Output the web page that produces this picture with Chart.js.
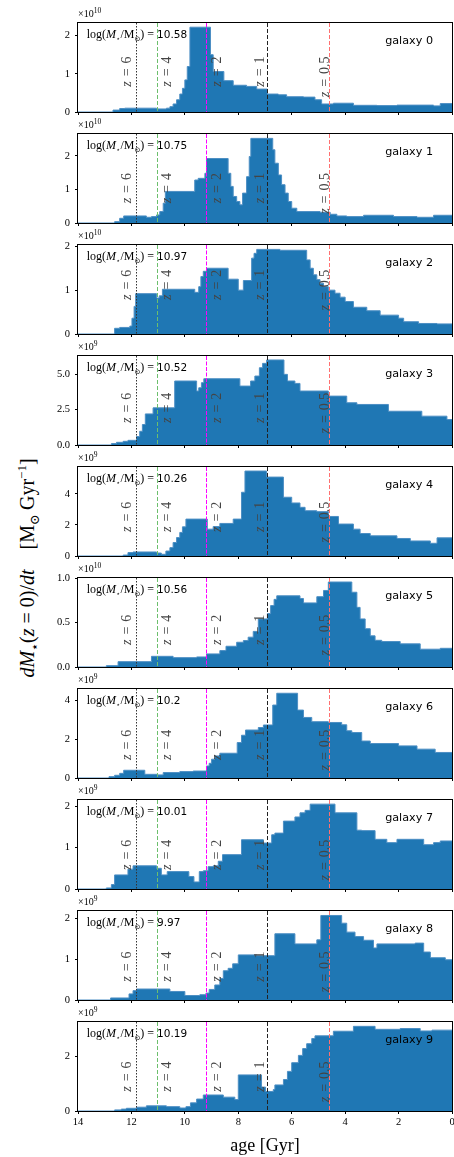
<!DOCTYPE html>
<html>
<head>
<meta charset="utf-8">
<script src="https://cdn.jsdelivr.net/npm/chart.js@4.4.1/dist/chart.umd.min.js"></script>
<style>
  body { margin: 0; background: #fff; width: 454px; height: 1157px; position: relative; overflow: hidden; }
  canvas { position: absolute; left: 0; }
  #ylab {
    position: absolute; left: 27px; top: 568px;
    transform: translate(-50%, -50%) rotate(-90deg);
    white-space: nowrap; font-family: "Liberation Serif", "DejaVu Serif", serif;
    font-size: 20px; line-height: 1; color: #000;
  }
  #ylab sub, #ylab sup { font-size: 0.65em; line-height: 0; }
</style>
</head>
<body>
<div id="ylab"><i>dM</i><sub>⋆</sub>(<i>z</i> = 0)/<i>dt</i>&ensp;&ensp;[M<sub>⊙</sub>&thinsp;Gyr<sup>−1</sup>]</div>
<script>
"use strict";
const xTicks = [14, 12, 10, 8, 6, 4, 2, 0];
const galaxyNames = ["galaxy 0", "galaxy 1", "galaxy 2", "galaxy 3", "galaxy 4",
  "galaxy 5", "galaxy 6", "galaxy 7", "galaxy 8", "galaxy 9"];
const logMass = ["10.58", "10.75", "10.97", "10.52", "10.26", "10.56", "10.2", "10.01", "9.97", "10.19"];
const yExponent = [10, 10, 10, 9, 9, 10, 9, 9, 9, 9];
const yTickLabels = [["0", "1", "2"], ["0", "1", "2"], ["0", "1", "2"], ["0.0", "2.5", "5.0"],
  ["0", "2", "4"], ["0.0", "0.5", "1.0"], ["0", "2", "4"], ["0", "1", "2"], ["0", "1", "2"], ["0", "2"]];
const yTop = [2.33, 2.65, 2.03, 6.3, 5.74, 1.0, 4.6, 2.15, 2.19, 3.28];
const zLabels = ["6", "4", "2", "1", "0.5"];
const zAges = [11.83, 11.03, 9.19, 6.92, 4.6];

// bin start age [Gyr] and dM/dt in units of 10^yExponent Msun/Gyr
const age0 = [14, 12.69, 12.44, 12.25, 11.06, 10.69, 10.56, 10.44, 10.31, 10.19, 10.09, 10.0, 9.91, 9.81, 9.04, 8.94, 8.54, 8.19, 7.69, 7.31, 6.91, 6.5, 6.19, 5.56, 5.13, 4.88, 4.44, 3.69, 2.81, 2.06, 0.69, 0.44];
const sfr0 = [0, 0.05, 0.09, 0.10, 0.08, 0.10, 0.14, 0.21, 0.32, 0.47, 0.62, 0.84, 1.19, 2.22, 1.5, 1.06, 0.82, 0.70, 0.67, 0.60, 0.47, 0.45, 0.40, 0.39, 0.32, 0.21, 0.23, 0.175, 0.167, 0.18, 0.16, 0.22];
const age1 = [14, 12.63, 12.44, 12.29, 11.44, 11.25, 11.06, 10.94, 10.81, 10.73, 9.63, 9.5, 9.25, 9.19, 8.38, 8.28, 8.19, 8.06, 7.94, 7.84, 7.69, 7.59, 7.53, 6.71, 6.63, 6.5, 6.38, 6.25, 6.13, 6.0, 5.81, 4.94, 4.56, 4.31, 3.94, 3.31, 2.19, 1.31, 0.69];
const sfr1 = [0, 0.04, 0.14, 0.21, 0.17, 0.19, 0.24, 0.34, 0.59, 0.94, 1.28, 1.33, 1.48, 1.92, 1.48, 1.09, 0.79, 0.64, 0.54, 0.89, 1.38, 1.98, 2.52, 2.18, 1.78, 1.43, 1.14, 0.89, 0.64, 0.44, 0.34, 0.32, 0.26, 0.21, 0.19, 0.23, 0.19, 0.17, 0.23];
const age2 = [14, 12.63, 12.44, 12.06, 11.98, 11.9, 11.84, 11.06, 10.96, 10.84, 9.63, 9.48, 9.4, 9.31, 9.19, 8.38, 8.0, 7.81, 7.5, 7.41, 7.31, 6.44, 5.44, 5.31, 5.19, 5.06, 4.94, 4.81, 4.63, 4.38, 4.19, 4.0, 3.69, 3.19, 2.69, 2.0, 1.81, 1.25, 0.56];
const sfr2 = [0, 0.13, 0.15, 0.18, 0.36, 0.63, 0.92, 0.82, 0.87, 1.02, 0.95, 1.08, 1.31, 1.43, 1.50, 1.25, 1.0, 1.22, 1.73, 1.84, 1.93, 1.91, 1.69, 1.50, 1.35, 1.24, 1.16, 1.08, 1.0, 0.93, 0.84, 0.74, 0.61, 0.53, 0.43, 0.36, 0.28, 0.24, 0.23];
const age3 = [14, 12.75, 12.56, 12.31, 12.13, 11.81, 11.69, 11.59, 11.48, 11.19, 10.38, 9.56, 9.48, 9.38, 9.29, 7.94, 7.54, 7.38, 7.21, 7.09, 6.94, 6.29, 6.16, 5.88, 5.69, 4.63, 3.94, 3.56, 2.38, 1.13, 0.19];
const sfr3 = [0, 0.1, 0.19, 0.26, 0.33, 0.6, 0.97, 1.45, 2.2, 2.63, 4.53, 3.82, 4.05, 4.41, 4.69, 4.17, 4.53, 4.88, 5.47, 5.78, 6.02, 5.0, 4.53, 4.36, 3.82, 3.46, 2.99, 2.87, 2.39, 2.04, 1.80];
const age4 = [14, 12.31, 12.13, 11.94, 11.06, 10.88, 10.71, 10.56, 10.44, 10.31, 10.19, 10.09, 9.96, 9.16, 8.94, 8.69, 8.19, 7.88, 7.75, 6.94, 6.31, 6.0, 5.69, 5.5, 5.06, 4.63, 4.25, 3.69, 3.44, 3.06, 2.06, 1.56, 0.81, 0.56];
const sfr4 = [0, 0.06, 0.22, 0.26, 0.19, 0.11, 0.32, 0.54, 0.87, 1.19, 1.52, 1.88, 2.38, 1.73, 1.9, 2.1, 2.38, 4.11, 5.48, 5.09, 3.79, 3.42, 3.14, 2.92, 2.86, 2.55, 2.06, 1.73, 1.45, 1.30, 1.13, 0.97, 0.82, 1.17];
const age5 = [14, 12.94, 12.5, 11.25, 10.44, 9.56, 9.19, 8.69, 8.46, 8.06, 7.81, 7.63, 7.44, 7.25, 6.91, 6.79, 6.66, 6.56, 5.69, 5.56, 5.06, 4.81, 4.63, 3.75, 3.56, 3.44, 3.25, 3.06, 2.88, 2.63, 1.94, 1.19, 0.44];
const sfr5 = [0, 0.015, 0.06, 0.12, 0.105, 0.113, 0.147, 0.184, 0.233, 0.278, 0.297, 0.335, 0.40, 0.54, 0.60, 0.69, 0.76, 0.80, 0.77, 0.72, 0.79, 0.86, 0.955, 0.84, 0.67, 0.54, 0.43, 0.35, 0.30, 0.286, 0.26, 0.20, 0.21];
const age6 = [14, 12.84, 12.63, 12.44, 12.29, 11.5, 11.03, 10.81, 10.19, 9.69, 9.19, 9.09, 9.0, 8.88, 8.69, 8.04, 7.88, 7.73, 7.25, 7.06, 6.71, 6.56, 5.78, 5.56, 5.25, 4.63, 4.13, 3.94, 3.75, 3.38, 3.06, 2.0, 1.31, 0.63];
const sfr6 = [0, 0.07, 0.14, 0.24, 0.40, 0.19, 0.16, 0.28, 0.33, 0.36, 0.62, 0.76, 0.97, 1.14, 1.28, 1.83, 2.21, 2.48, 2.61, 2.74, 3.77, 4.38, 3.51, 3.13, 2.91, 2.87, 2.75, 2.44, 2.35, 1.91, 1.78, 1.66, 1.49, 1.32];
const age7 = [14, 12.94, 12.75, 12.63, 12.13, 11.94, 11.06, 10.88, 10.66, 9.85, 9.66, 9.46, 9.31, 9.13, 8.94, 8.75, 8.59, 7.88, 7.06, 6.75, 6.63, 6.31, 5.88, 5.69, 5.5, 5.31, 4.38, 3.56, 3.38, 2.88, 2.44, 2.06, 1.06, 0.69, 0.44];
const sfr7 = [0, 0.025, 0.107, 0.34, 0.48, 0.56, 0.50, 0.34, 0.42, 0.30, 0.17, 0.42, 0.44, 0.54, 0.56, 0.67, 0.83, 1.19, 1.11, 1.31, 1.35, 1.64, 1.74, 1.84, 1.90, 2.05, 1.84, 1.42, 1.41, 1.20, 1.12, 1.20, 1.07, 1.12, 1.16];
const age8 = [14, 12.78, 12.09, 11.94, 11.81, 10.56, 10.0, 9.44, 9.21, 9.09, 8.88, 8.69, 8.56, 8.38, 8.21, 8.0, 7.31, 6.63, 5.88, 5.06, 4.91, 4.13, 3.94, 3.63, 3.31, 2.94, 2.81, 1.38, 1.06, 0.81, 0.25];
const sfr8 = [0, 0.05, 0.15, 0.23, 0.27, 0.21, 0.11, 0.13, 0.17, 0.26, 0.37, 0.53, 0.72, 0.78, 0.89, 1.11, 1.09, 1.63, 1.38, 1.48, 2.08, 1.89, 1.67, 1.56, 1.47, 1.28, 1.38, 1.40, 1.18, 1.04, 0.99];
const age9 = [14, 12.63, 12.38, 12.19, 11.81, 11.44, 10.69, 10.19, 9.96, 9.79, 9.56, 9.31, 8.56, 8.13, 8.0, 7.13, 6.98, 6.69, 6.63, 6.31, 6.16, 6.0, 5.75, 5.59, 5.44, 5.25, 5.13, 4.44, 3.69, 2.88, 1.94, 1.19, 0.75];
const sfr9 = [0, 0.04, 0.07, 0.10, 0.14, 0.19, 0.16, 0.11, 0.16, 0.30, 0.44, 0.59, 0.51, 0.42, 1.33, 0.88, 0.72, 0.79, 0.96, 1.16, 1.46, 1.78, 2.05, 2.30, 2.48, 2.67, 2.77, 2.94, 3.12, 3.01, 3.04, 2.95, 2.98];

const ages = [age0, age1, age2, age3, age4, age5, age6, age7, age8, age9];
const rates = [sfr0, sfr1, sfr2, sfr3, sfr4, sfr5, sfr6, sfr7, sfr8, sfr9];

// styling
const SERIF = '"Liberation Serif", "DejaVu Serif", serif';
const SANS = '"DejaVu Sans", sans-serif';
const zColor = ["#333", "#6cbf6c", "#ff00ff", "#222", "#ff7070"];
const zDash = [[1.5, 1.5], [4, 2], [4, 1.5], [4, 2], [4, 2]];
const zLabelDx = [-9.6, 10.3, 10.8, -7.3, -4.3];
const zLabelTop = [33.4, 39, 24.7, 36.7, 34.7, 36.7, 40.7, 39.7, 40.4, 39.4];

function drawParts(ctx, x, y, parts) {
  for (const p of parts) {
    ctx.font = p.f;
    ctx.fillText(p.t, x, y + (p.dy || 0));
    x += ctx.measureText(p.t).width + (p.gap || 0);
  }
  return x;
}

const decor = {
  id: "decor",
  afterDatasetsDraw(chart, args, opts) {
    const { ctx, chartArea: a, scales: { x } } = chart;
    const i = opts.index;
    ctx.save();
    // redshift markers
    zAges.forEach((age, k) => {
      const px = Math.round(x.getPixelForValue(age)) + 0.5;
      ctx.save();
      ctx.strokeStyle = zColor[k];
      ctx.lineWidth = 1;
      ctx.setLineDash(zDash[k]);
      ctx.beginPath();
      ctx.moveTo(px, a.top);
      ctx.lineTo(px, a.bottom);
      ctx.stroke();
      ctx.restore();

      ctx.save();
      ctx.fillStyle = "#444";
      ctx.textBaseline = "middle";
      ctx.translate(px + zLabelDx[k], a.top + zLabelTop[i]);
      ctx.rotate(-Math.PI / 2);
      const parts = [
        { t: "z", f: "italic 14px " + SERIF, gap: 5 },
        { t: "=", f: "14px " + SERIF, gap: 5 },
        { t: zLabels[k], f: "14px " + SERIF }
      ];
      let w = 0;
      parts.forEach(p => { ctx.font = p.f; w += ctx.measureText(p.t).width + (p.gap || 0); });
      ctx.textAlign = "left";
      drawParts(ctx, -w, 0, parts);
      ctx.restore();
    });

    // frame
    ctx.strokeStyle = "#000";
    ctx.lineWidth = 1;
    ctx.strokeRect(a.left - 0.5, a.top - 0.5, a.right - a.left + 1, a.bottom - a.top + 1);

    ctx.fillStyle = "#000";
    ctx.textBaseline = "alphabetic";
    ctx.textAlign = "left";
    // multiplier
    drawParts(ctx, a.left, a.top - 6, [
      { t: "×10", f: "10px " + SERIF },
      { t: String(yExponent[i]), f: "7.5px " + SERIF, dy: -4 }
    ]);
    // stellar mass
    drawParts(ctx, 86.7, a.top + 15, [
      { t: "log(", f: "12px " + SERIF },
      { t: "M", f: "italic 12px " + SERIF },
      { t: "⋆", f: "7px " + SANS, dy: 2.5 },
      { t: "/M", f: "12px " + SERIF },
      { t: "⊙", f: "7px " + SANS, dy: 2.5 },
      { t: ") = ", f: "12px " + SERIF },
      { t: logMass[i], f: "10.5px " + SANS }
    ]);
    // galaxy name
    ctx.font = "11.2px " + SANS;
    ctx.textAlign = "right";
    ctx.textBaseline = "middle";
    ctx.fillText(galaxyNames[i], a.right - 19, a.top + 18.4);

    if (i === ages.length - 1) {
      ctx.font = "18px " + SERIF;
      ctx.textAlign = "center";
      ctx.fillText("age [Gyr]", (a.left + a.right) / 2, 147.7);
    }
    ctx.restore();
  }
};

for (let i = 0; i < ages.length; i++) {
  const last = i === ages.length - 1;
  const h = last ? 158 : 116;
  const cv = document.createElement("canvas");
  cv.width = 454;
  cv.height = h;
  cv.style.top = (111 * i) + "px";
  document.body.appendChild(cv);

  const scale = Math.pow(10, yExponent[i]);
  const pts = ages[i].map((ag, k) => ({ x: ag, y: rates[i][k] * scale }));
  pts.push({ x: 0, y: rates[i][rates[i].length - 1] * scale });

  new Chart(cv, {
    type: "line",
    data: {
      datasets: [{
        data: pts,
        stepped: true,
        fill: "origin",
        backgroundColor: "#1f77b4",
        borderColor: "#4d8fc4",
        borderWidth: 1,
        pointRadius: 0
      }]
    },
    options: {
      responsive: false,
      animation: false,
      events: [],
      layout: { padding: { top: 23, right: 2, left: 0, bottom: 0 } },
      plugins: { legend: { display: false }, tooltip: { enabled: false }, decor: { index: i } },
      scales: {
        x: {
          type: "linear",
          reverse: true,
          min: 0,
          max: 14,
          afterBuildTicks: s => { s.ticks = xTicks.map(v => ({ value: v })); },
          afterFit: s => { s.height = h - 112; s.paddingLeft = 0; s.paddingRight = 0; },
          grid: { drawOnChartArea: false, drawTicks: true, tickLength: 3, color: "#000" },
          border: { display: false },
          ticks: {
            display: last,
            autoSkip: false,
            maxRotation: 0,
            padding: 2,
            color: "#000",
            font: { family: SERIF, size: 10.5 }
          }
        },
        y: {
          min: 0,
          max: yTop[i] * scale,
          afterBuildTicks: s => { s.ticks = yTickLabels[i].map(t => ({ value: parseFloat(t) * scale })); },
          afterFit: s => { s.width = 78; s.paddingTop = 0; s.paddingBottom = 0; },
          grid: { drawOnChartArea: false, drawTicks: true, tickLength: 3, color: "#000" },
          border: { display: false },
          ticks: {
            padding: 5,
            color: "#000",
            font: { family: SERIF, size: 10.5 },
            callback: (v, k) => yTickLabels[i][k]
          }
        }
      }
    },
    plugins: [decor]
  });
}
</script>
</body>
</html>
